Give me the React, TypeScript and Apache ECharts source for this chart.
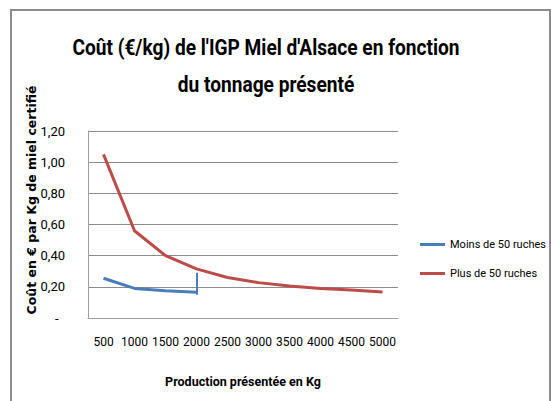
import React, { useEffect, useRef } from "react";
import * as echarts from "echarts";

const categories = ["500", "1000", "1500", "2000", "2500", "3000", "3500", "4000", "4500", "5000"];
const moinsDe50 = [0.255, 0.19, 0.175, 0.165];
const plusDe50 = [1.05, 0.56, 0.4, 0.315, 0.26, 0.227, 0.205, 0.19, 0.18, 0.167];
const moinsBar = [0.15, 0.29];
const titleLines = ["Coût (€/kg) de l'IGP Miel d'Alsace en fonction", "du tonnage présenté"];
const yAxisTitle = "Coût en € par Kg de miel certifié";
const xAxisTitle = "Production présentée en Kg";

const NARROW = "'Roboto', 'Liberation Sans', sans-serif";

export default function App() {
  const ref = useRef<HTMLDivElement>(null);
  useEffect(() => {
    if (!ref.current) return;
    const chart = echarts.init(ref.current, undefined, { renderer: "svg" });
    chart.setOption({
      animation: false,
      backgroundColor: "#ffffff",
      graphic: [
        {
          type: "rect",
          shape: { x: 11, y: 10, width: 539, height: 400 },
          style: { fill: "none", stroke: "#8c8c8c", lineWidth: 2 },
          silent: true,
        },
        ...titleLines.map((t, i) => ({
          type: "text",
          x: 266,
          y: 48 + i * 37,
          scaleX: 0.87,
          silent: true,
          style: {
            text: t,
            fill: "#000",
            font: "bold 22px Roboto, sans-serif",
            textAlign: "center",
            textVerticalAlign: "middle",
          },
        })),
        {
          type: "text",
          x: 31,
          y: 200,
          rotation: Math.PI / 2,
          silent: true,
          style: {
            text: yAxisTitle,
            fill: "#000",
            font: "bold 12.5px 'DejaVu Sans', sans-serif",
            textAlign: "center",
            textVerticalAlign: "middle",
          },
        },
      ],
      legend: {
        orient: "vertical",
        left: 415,
        top: 234,
        itemWidth: 25,
        itemHeight: 3,
        itemGap: 18,
        icon: "rect",
        textStyle: { fontFamily: NARROW, fontSize: 11, color: "#000" },
        data: ["Moins de 50 ruches", "Plus de 50 ruches"],
      },
      grid: { left: 88, right: 153, top: 131, bottom: 83 },
      xAxis: {
        type: "category",
        data: categories,
        boundaryGap: true,
        name: xAxisTitle,
        nameLocation: "middle",
        nameGap: 57,
        nameTextStyle: { fontFamily: NARROW, fontWeight: "bold", fontSize: 12.5, color: "#000" },
        axisLine: { lineStyle: { color: "#a0a0a0", width: 1 } },
        axisTick: { show: false },
        axisLabel: { fontFamily: NARROW, fontSize: 12, color: "#000", margin: 18, interval: 0 },
      },
      yAxis: {
        type: "value",
        min: 0,
        max: 1.2,
        interval: 0.2,
        axisLine: { show: true, lineStyle: { color: "#a0a0a0", width: 1 } },
        axisTick: { show: false },
        splitLine: { lineStyle: { color: "#8c8c8c", width: 1 } },
        axisLabel: {
          fontFamily: NARROW,
          fontSize: 13,
          color: "#000",
          margin: 23,
          formatter: (v: number) => (v === 0 ? "-  " : v.toFixed(2).replace(".", ",")),
        },
      },
      series: [
        {
          name: "Moins de 50 ruches",
          type: "line",
          data: moinsDe50,
          showSymbol: false,
          symbol: "none",
          lineStyle: { color: "#4a7ebb", width: 3 },
          itemStyle: { color: "#4a7ebb" },
          markLine: {
            silent: true,
            symbol: ["none", "none"],
            label: { show: false },
            lineStyle: { color: "#4a7ebb", width: 2, type: "solid" },
            data: [
              [
                { coord: ["2000", moinsBar[0]] },
                { coord: ["2000", moinsBar[1]] },
              ],
            ],
          },
        },
        {
          name: "Plus de 50 ruches",
          type: "line",
          data: plusDe50,
          showSymbol: false,
          symbol: "none",
          lineStyle: { color: "#be4b48", width: 3 },
          itemStyle: { color: "#be4b48" },
        },
      ],
    });
    return () => chart.dispose();
  }, []);
  return <div ref={ref} style={{ width: 551, height: 401, position: "absolute", left: 0, top: 0 }} />;
}
